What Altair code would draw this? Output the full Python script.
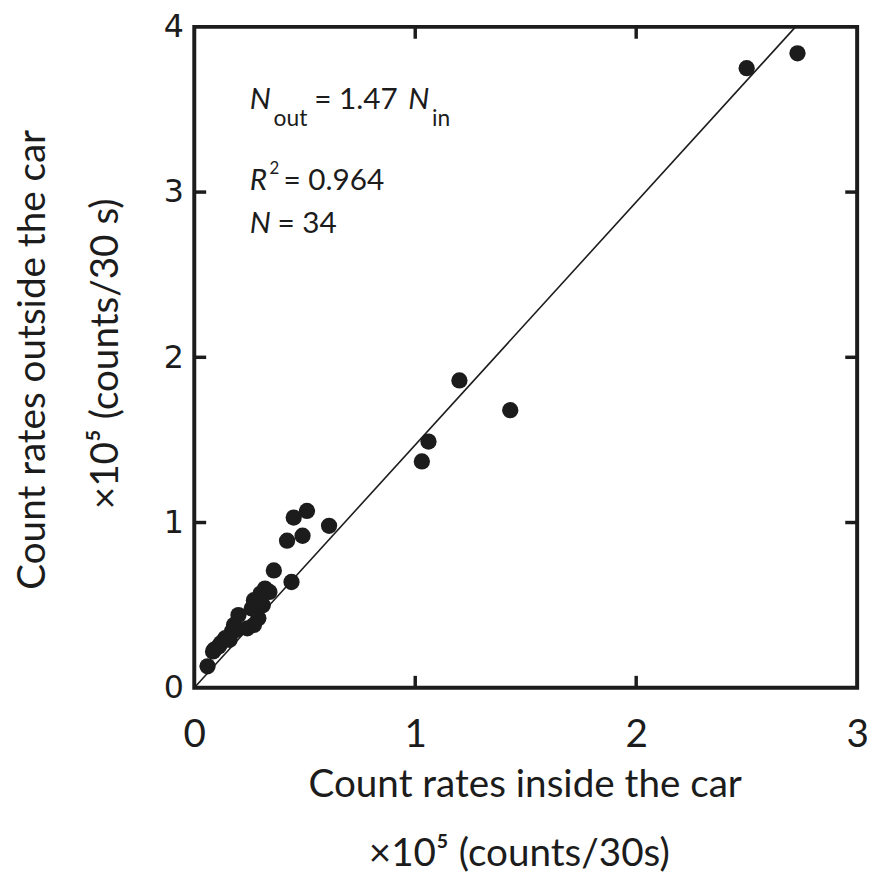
import altair as alt
import pandas as pd

# --- data (units of 1e5 counts/30 s) ---
x_inside = [2.73, 2.50, 1.20, 1.43, 1.06, 1.03, 0.61, 0.51, 0.45, 0.49,
            0.42, 0.44, 0.36, 0.32, 0.30, 0.34, 0.27, 0.31, 0.20, 0.29,
            0.27, 0.18, 0.17, 0.14, 0.11, 0.085, 0.12, 0.06, 0.24, 0.16,
            0.26, 0.29, 0.09, 0.19]
y_outside = [3.84, 3.75, 1.86, 1.68, 1.49, 1.37, 0.98, 1.07, 1.03, 0.92,
             0.89, 0.64, 0.71, 0.60, 0.57, 0.58, 0.53, 0.50, 0.44, 0.42,
             0.38, 0.38, 0.34, 0.30, 0.25, 0.22, 0.27, 0.13, 0.36, 0.29,
             0.48, 0.52, 0.23, 0.35]
slope = 1.47
fit_x = [0.0, 4.0 / slope]
x_ticks = [0, 1, 2, 3]
y_ticks = [0, 1, 2, 3, 4]
inner_x_ticks = [1, 2]
inner_y_ticks = [1, 2, 3]

X_MAX, Y_MAX = 3, 4
W, H = 669, 667
TL = 12  # inner tick length in px
ink = "#1c1c1c"
title_font = "Lato"

xs = alt.Scale(domain=[0, X_MAX], nice=False, zero=False)
ys = alt.Scale(domain=[0, Y_MAX], nice=False, zero=False)

x_axis = alt.Axis(values=x_ticks, ticks=False, domain=False, grid=False,
                  labelFont=title_font, labelFontSize=39, labelColor=ink,
                  labelPadding=28, title=None, labelFlush=False)
y_axis = alt.Axis(values=y_ticks, ticks=False, domain=False, grid=False,
                  labelFont="DejaVu Sans", labelFontSize=32, labelColor=ink,
                  labelPadding=11, title=None, labelFlush=False)

pts = pd.DataFrame({"x": x_inside, "y": y_outside})
fit = pd.DataFrame({"x": fit_x, "y": [v * slope for v in fit_x]})

dx = TL / W * X_MAX
dy = TL / H * Y_MAX
tick_rows = []
for t in inner_x_ticks:
    tick_rows.append({"x": t, "x2": t, "y": 0, "y2": dy})
    tick_rows.append({"x": t, "x2": t, "y": Y_MAX - dy, "y2": Y_MAX})
for t in inner_y_ticks:
    tick_rows.append({"x": 0, "x2": dx, "y": t, "y2": t})
    tick_rows.append({"x": X_MAX - dx, "x2": X_MAX, "y": t, "y2": t})
ticks = pd.DataFrame(tick_rows)

scatter = alt.Chart(pts).mark_circle(size=270, color=ink, opacity=1).encode(
    x=alt.X("x:Q", scale=xs, axis=x_axis),
    y=alt.Y("y:Q", scale=ys, axis=y_axis),
)

line = alt.Chart(fit).mark_line(color=ink, strokeWidth=1.6).encode(
    x=alt.X("x:Q", scale=xs, axis=x_axis),
    y=alt.Y("y:Q", scale=ys, axis=y_axis),
)

tick_marks = alt.Chart(ticks).mark_rule(color=ink, strokeWidth=3.5).encode(
    x=alt.X("x:Q", scale=xs, axis=x_axis), x2="x2:Q",
    y=alt.Y("y:Q", scale=ys, axis=y_axis), y2="y2:Q",
)


def txt(s, x, y, size, italic=False, align="left", angle=0, font=title_font, baseline="alphabetic"):
    kw = dict(text=s, fontSize=size, font=font, color=ink, align=align,
              baseline=baseline, angle=angle)
    if italic:
        kw["fontStyle"] = "italic"
    return alt.Chart(pd.DataFrame({"a": [0]})).mark_text(**kw).encode(
        x=alt.value(x), y=alt.value(y))


ann_size = 30
sub_size = 23
annotations = [
    txt("N", 56, 83, ann_size, italic=True),
    txt("out", 80, 100, sub_size),
    txt("= 1.47", 121, 83, ann_size),
    txt("N", 216, 83, ann_size, italic=True),
    txt("in", 240, 100, sub_size),
    txt("R", 56, 165, ann_size, italic=True),
    txt("2", 76, 149, 17),
    txt("= 0.964", 90, 165, ann_size),
    txt("N", 56, 208, ann_size, italic=True),
    txt("= 34", 84, 208, ann_size),
]

titles = [
    txt("Count rates inside the car", 334, 765, 39, align="center", baseline="middle"),
    txt("×10⁵ (counts/30s)", 328, 835, 39, align="center", baseline="middle"),
    txt("Count rates outside the car", -163, 336, 39, align="center", angle=270, baseline="middle"),
    txt("×10⁵ (counts/30 s)", -89, 330, 39, align="center", angle=270, baseline="middle"),
]

chart = alt.layer(scatter, line, tick_marks, *annotations, *titles).properties(
    width=W, height=H,
    autosize=alt.AutoSizeParams(type="none"),
    padding={"left": 188, "top": 15, "right": 16, "bottom": 190},
    background="white",
).configure_view(stroke=ink, strokeWidth=4)

chart.save("out.html", embed_options={"renderer": "svg", "actions": False})
